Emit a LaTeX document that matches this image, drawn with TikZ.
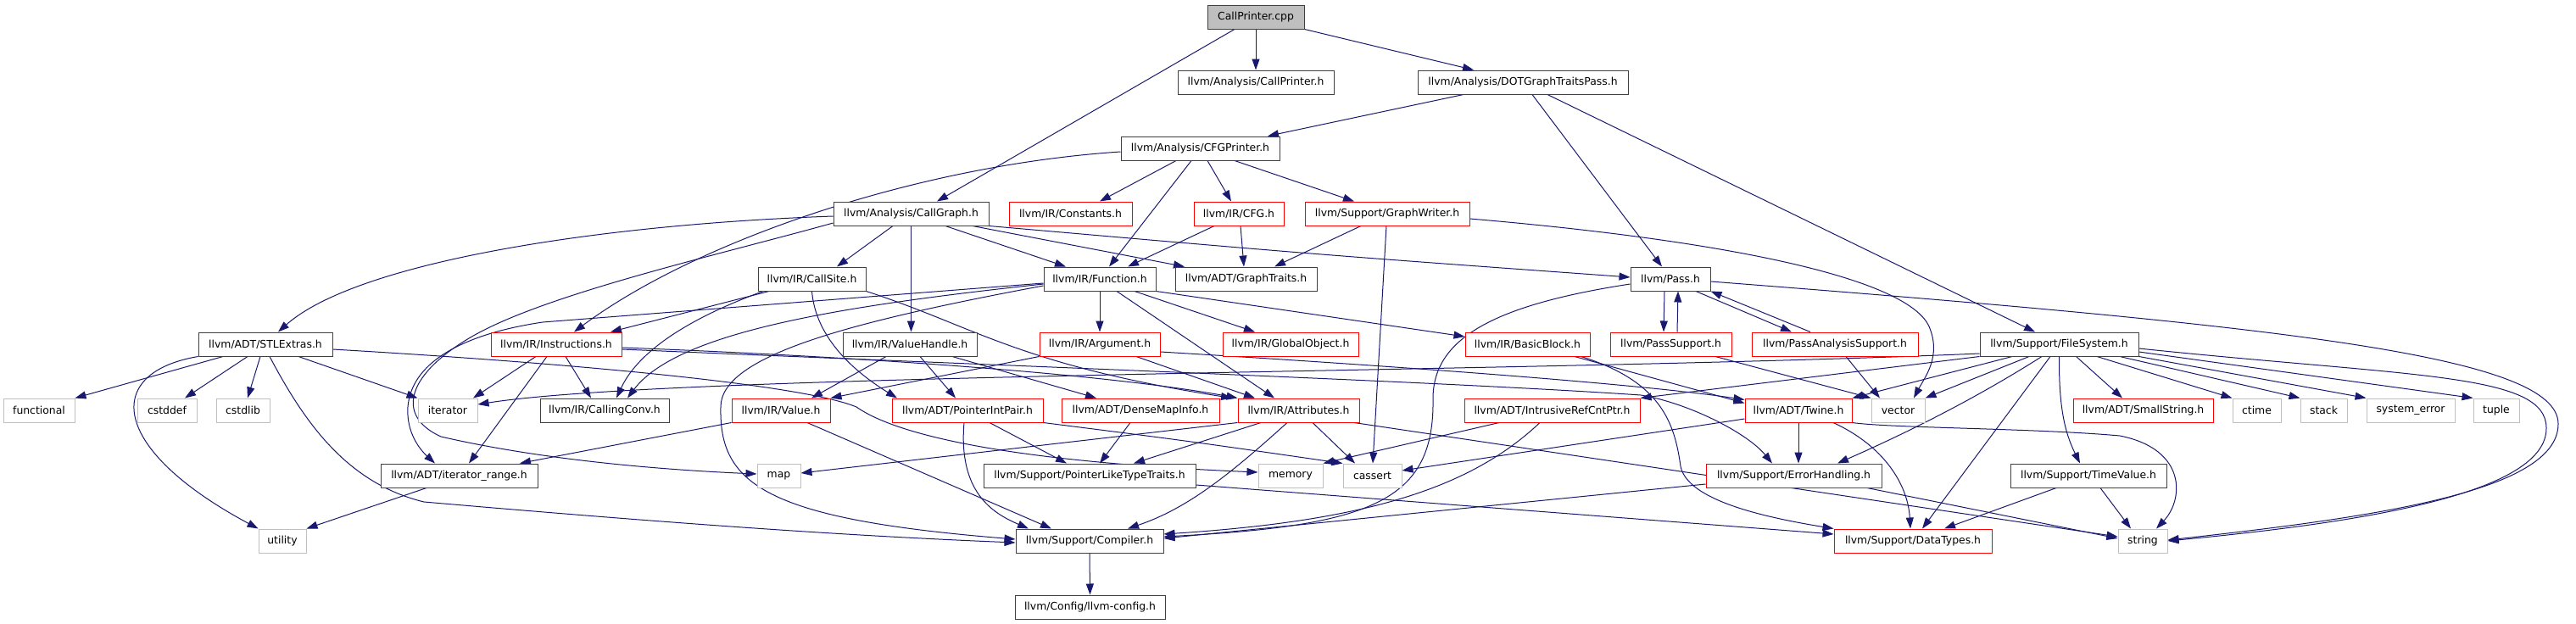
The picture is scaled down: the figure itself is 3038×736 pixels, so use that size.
\documentclass[tikz,border=0pt]{standalone}
\usepackage{fontspec}
\newfontfamily\dejavu{DejaVu Sans}
\usetikzlibrary{arrows.meta}
\definecolor{edgeblue}{HTML}{191970}
\definecolor{sysgray}{HTML}{BFBFBF}
\definecolor{nodeborder}{HTML}{404040}
\pgfdeclarelayer{bgl}
\pgfdeclarelayer{edgel}
\pgfsetlayers{bgl,edgel,main}
\begin{document}
\begin{tikzpicture}[x=1pt,y=-1pt,
  box/.style={draw=nodeborder, line width=1pt, fill=white, inner sep=0pt, minimum height=28pt,
    font={\dejavu\fontsize{12.4}{14}\selectfont}, text=black},
  hdr/.style={box},
  trunc/.style={box, draw=red},
  sys/.style={box, draw=sysgray},
  rootbox/.style={box, fill=sysgray},
  e/.style={draw=edgeblue, line width=1pt, -{Triangle[length=13pt,width=9pt]}}]
\begin{pgfonlayer}{bgl}
\fill[white] (0,0) rectangle (3038,736);
\end{pgfonlayer}
\useasboundingbox (0,0) rectangle (3038,736);
% row 1-3
\node[rootbox, minimum width=114pt] (root) at (1481,20) {CallPrinter.cpp};
\node[hdr, minimum width=184pt] (cph) at (1481,97) {llvm/Analysis/CallPrinter.h};
\node[hdr, minimum width=248pt] (dot) at (1796,97) {llvm/Analysis/DOTGraphTraitsPass.h};
\node[hdr, minimum width=187pt] (cfgp) at (1415.5,175) {llvm/Analysis/CFGPrinter.h};
% row 4
\node[hdr, minimum width=183pt] (cg) at (1074.5,252) {llvm/Analysis/CallGraph.h};
\node[trunc, minimum width=145pt] (const) at (1262.5,252) {llvm/IR/Constants.h};
\node[trunc, minimum width=106pt] (cfg) at (1461,252) {llvm/IR/CFG.h};
\node[trunc, minimum width=194pt] (gw) at (1636,252) {llvm/Support/GraphWriter.h};
% row 5
\node[hdr, minimum width=127pt] (cs) at (957.5,329) {llvm/IR/CallSite.h};
\node[hdr, minimum width=132pt] (fn) at (1297,329) {llvm/IR/Function.h};
\node[hdr, minimum width=167pt] (gt) at (1469.5,329) {llvm/ADT/GraphTraits.h};
\node[hdr, minimum width=94pt] (pass) at (1970,329) {llvm/Pass.h};
% row 6
\node[hdr, minimum width=158pt] (stl) at (313,406) {llvm/ADT/STLExtras.h};
\node[trunc, minimum width=154pt] (instr) at (656,406) {llvm/IR/Instructions.h};
\node[hdr, minimum width=158pt] (vh) at (1073,406) {llvm/IR/ValueHandle.h};
\node[trunc, minimum width=142pt] (arg) at (1297,406) {llvm/IR/Argument.h};
\node[trunc, minimum width=160pt] (go) at (1522,406) {llvm/IR/GlobalObject.h};
\node[trunc, minimum width=147pt] (bb) at (1801.5,406) {llvm/IR/BasicBlock.h};
\node[trunc, minimum width=143pt] (ps) at (1970.5,406) {llvm/PassSupport.h};
\node[trunc, minimum width=196pt] (pas) at (2164,406) {llvm/PassAnalysisSupport.h};
\node[hdr, minimum width=187pt] (fs) at (2428.5,406) {llvm/Support/FileSystem.h};
% row 7
\node[sys, minimum width=84pt] (functional) at (46,484) {functional};
\node[sys, minimum width=70pt] (cstddef) at (197,484) {cstddef};
\node[sys, minimum width=63pt] (cstdlib) at (286.5,484) {cstdlib};
\node[sys, minimum width=70pt] (iterator) at (528,484) {iterator};
\node[hdr, minimum width=152pt] (cc) at (713,484) {llvm/IR/CallingConv.h};
\node[trunc, minimum width=116pt] (val) at (921,484) {llvm/IR/Value.h};
\node[trunc, minimum width=178pt] (pip) at (1141,484) {llvm/ADT/PointerIntPair.h};
\node[trunc, minimum width=186pt] (dmi) at (1345,484) {llvm/ADT/DenseMapInfo.h};
\node[trunc, minimum width=143pt] (attr) at (1531.5,484) {llvm/IR/Attributes.h};
\node[trunc, minimum width=207pt] (irc) at (1830.5,484) {llvm/ADT/IntrusiveRefCntPtr.h};
\node[trunc, minimum width=126pt] (twine) at (2121,484) {llvm/ADT/Twine.h};
\node[sys, minimum width=63pt] (vector) at (2238.5,484) {vector};
\node[trunc, minimum width=165pt] (ss) at (2527.5,484) {llvm/ADT/SmallString.h};
\node[sys, minimum width=57pt] (ctime) at (2661.5,484) {ctime};
\node[sys, minimum width=55pt] (stack) at (2740.5,484) {stack};
\node[sys, minimum width=104pt] (syserr) at (2843,484) {system\_error};
\node[sys, minimum width=54pt] (tuple) at (2944,484) {tuple};
% row 8
\node[hdr, minimum width=185pt] (ir) at (541.5,561) {llvm/ADT/iterator\_range.h};
\node[sys, minimum width=51pt] (map) at (918.5,561) {map};
\node[hdr, minimum width=250pt] (pltt) at (1285,561) {llvm/Support/PointerLikeTypeTraits.h};
\node[sys, minimum width=76pt] (memory) at (1522,561) {memory};
\node[sys, minimum width=69pt] (cassert) at (1618.5,561) {cassert};
\node[trunc, minimum width=207pt] (eh) at (2115.5,561) {llvm/Support/ErrorHandling.h};
\node[hdr, minimum width=184pt] (tv) at (2463,561) {llvm/Support/TimeValue.h};
% row 9-10
\node[sys, minimum width=56pt] (utility) at (333,638) {utility};
\node[hdr, minimum width=174pt] (comp) at (1285,638) {llvm/Support/Compiler.h};
\node[trunc, minimum width=186pt] (dt) at (2256,638) {llvm/Support/DataTypes.h};
\node[sys, minimum width=58pt] (string) at (2527,638) {string};
\node[hdr, minimum width=177pt] (llvmcfg) at (1285.5,716) {llvm/Config/llvm-config.h};

% ---------- edges ----------
\begin{pgfonlayer}{edgel}
\draw[e] (root.south) -- (cph.north);
\draw[e] ([xshift=-25pt]root.south) -- ([xshift=30.5pt]cg.north);
\draw[e] (root.south east) -- ([xshift=-58pt]dot.north);
\draw[e] ([xshift=-70pt]dot.south) -- ([xshift=79.5pt]cfgp.north);
\draw[e] ([xshift=11pt]dot.south) -- ([xshift=-10pt]pass.north);
\draw[e] ([xshift=29pt]dot.south) -- ([xshift=-28.5pt]fs.north);
\draw[e] ([xshift=-28.5pt]cfgp.south) -- ([xshift=34.5pt]const.north);
\draw[e] ([xshift=-10.5pt]cfgp.south) -- ([xshift=11pt]fn.north);
\draw[e] ([xshift=8.5pt]cfgp.south) -- ([xshift=-9pt]cfg.north);
\draw[e] ([xshift=40.5pt]cfgp.south) -- ([xshift=-39pt]gw.north);
\draw[e] ([yshift=-4pt]cfgp.west) .. controls (1080,195) and (820,285) .. ([xshift=21pt]instr.north);
% CallGraph
\draw[e] ([yshift=-3pt]cg.west) .. controls (700,265) and (420,310) .. ([xshift=15pt]stl.north);
\draw[e] ([yshift=-11pt]cg.west) .. controls (850,300) and (650,345) .. (560,395)
   .. controls (480,440) and (465,490) .. (520,515) .. controls (650,545) and (800,555) .. ([yshift=2pt]map.west);
\draw[e] ([xshift=-21.5pt]cg.south) -- ([xshift=29.5pt]cs.north);
\draw[e] (cg.south) -- (cg.south |- vh.north);
\draw[e] ([xshift=40.5pt]cg.south) -- ([xshift=-40pt]fn.north);
\draw[e] ([xshift=72.5pt]cg.south) -- ([xshift=-72.5pt]gt.north);
\draw[e] (cg.south east) .. controls (1550,300) .. ([yshift=2pt]pass.west);
% CFG, GraphWriter
\draw[e] ([xshift=-29pt]cfg.south) -- ([xshift=33pt]fn.north);
\draw[e] ([xshift=2pt]cfg.south) -- ([xshift=-2.5pt]gt.north);
\draw[e] ([xshift=-31pt]gw.south) -- ([xshift=33.5pt]gt.north);
\draw[e] ([xshift=-1pt]gw.south) -- ([xshift=0.5pt]cassert.north);
\draw[e] ([yshift=-6pt]gw.east) .. controls (2050,285) and (2250,330) .. (2275,385)
   .. controls (2290,420) and (2270,445) .. ([xshift=18.5pt]vector.north);
% CallSite
\draw[e] ([xshift=-50.5pt]cs.south) -- ([xshift=64pt]instr.north);
\draw[e] ([xshift=-57.5pt]cs.south) .. controls (800,380) and (750,420) .. ([xshift=14pt]cc.north);
\draw[e] (cs.south) .. controls (962,400) and (1010,440) .. ([xshift=-83pt]pip.north);
\draw[e] (cs.south east) .. controls (1150,385) and (1200,430) .. ([xshift=-78.5pt]attr.north);
% Function
\draw[e] ([yshift=-5pt]fn.west) -- (640,380) .. controls (540,395) and (485,430) .. (481,480)
   .. controls (479,510) and (495,530) .. ([xshift=-28.5pt]ir.north);
\draw[e] ([yshift=-6pt]fn.west) .. controls (1000,360) and (800,390) .. ([xshift=27pt]cc.north);
\draw[e] ([yshift=-8pt]fn.west) .. controls (1000,380) and (850,420) .. (850,480)
   .. controls (848,570) and (900,612) .. ([yshift=2pt]comp.west);
\draw[e] (fn.south) -- (arg.north);
\draw[e] ([xshift=20pt]fn.south) -- ([xshift=-28.5pt]attr.north);
\draw[e] ([xshift=41pt]fn.south) -- ([xshift=-42pt]go.north);
\draw[e] (fn.south east) -- ([yshift=9pt]bb.west);
% Pass
\draw[e] ([yshift=-6pt]pass.west) .. controls (1760,360) and (1690,400) .. (1690,470)
   .. controls (1692,590) and (1620,620) .. ([yshift=5pt]comp.east);
\draw[e] ([yshift=-3pt]pass.east) .. controls (2700,385) and (3017,420) .. (3017,500)
   .. controls (3017,580) and (2800,610) .. ([yshift=1pt]string.east);
\draw[e] ([xshift=-7pt]pass.south) -- ([xshift=-8.5pt]ps.north);
\draw[e] ([xshift=7.5pt]ps.north) -- ([xshift=9pt]pass.south);
\draw[e] ([xshift=30pt]pass.south) -- ([xshift=-51pt]pas.north);
\draw[e] ([xshift=-29pt]pas.north) -- (pass.south east);
% STLExtras
\draw[e] ([xshift=-50pt]stl.south) -- (functional.north east);
\draw[e] ([xshift=-21pt]stl.south) -- ([xshift=21pt]cstddef.north);
\draw[e] ([xshift=-6pt]stl.south) -- ([xshift=5.5pt]cstdlib.north);
\draw[e] ([xshift=39pt]stl.south) -- (iterator.north west);
\draw[e] (stl.south west) .. controls (120,440) and (130,530) .. (utility.north west);
\draw[e] ([xshift=5pt]stl.south) .. controls (360,500) and (410,570) .. (500,592)
   .. controls (800,618) and (1000,632) .. ([yshift=-2pt]comp.west);
\draw[e] ([yshift=-6pt]stl.east) .. controls (700,430) and (950,455) .. (1010,480)
   .. controls (1060,515) and (1200,545) .. ([yshift=4pt]memory.west);
% Instructions
\draw[e] ([xshift=-24pt]instr.south) -- ([xshift=30pt]iterator.north);
\draw[e] ([xshift=11pt]instr.south) -- ([xshift=-16pt]cc.north);
\draw[e] ([xshift=-11pt]instr.south) -- ([xshift=11.5pt]ir.north);
\draw[e] ([yshift=-4pt]instr.east) .. controls (1000,420) and (1300,440) .. (attr.north west);
\draw[e] ([yshift=-6pt]instr.east) .. controls (1200,432) and (1700,450) .. (1935,466)
   .. controls (1990,475) and (2060,510) .. ([xshift=-25.5pt]eh.north);
% ValueHandle, Argument, BasicBlock
\draw[e] ([xshift=12pt]vh.south) -- ([xshift=-14pt]pip.north);
\draw[e] ([xshift=50pt]vh.south) -- ([xshift=-52pt]dmi.north);
\draw[e] ([xshift=-28pt]vh.south) -- ([xshift=36pt]val.north);
\draw[e] (arg.south west) -- (val.north east);
\draw[e] ([xshift=43pt]arg.south) -- ([xshift=-51.5pt]attr.north);
\draw[e] ([yshift=-9pt]arg.east) .. controls (1700,435) and (1950,455) .. ([yshift=-2pt]twine.north west);
\draw[e] ([xshift=55.5pt]bb.south) -- ([yshift=-6pt]twine.north west);
\draw[e] ([xshift=63pt]bb.south) .. controls (1960,450) and (1975,500) .. (1982,550)
   .. controls (1990,590) and (2080,610) .. (dt.north west);
\draw[e] ([xshift=52.5pt]ps.south) -- (vector.north west);
\draw[e] ([xshift=13pt]pas.south) -- ([xshift=-21.5pt]vector.north);
% FileSystem
\draw[e] (fs.south west) -- (irc.north east);
\draw[e] ([yshift=-11pt]fs.west) .. controls (1800,440) and (800,440) .. ([yshift=7pt]iterator.east);
\draw[e] ([xshift=20pt]fs.south) -- ([xshift=-24.5pt]ss.north);
\draw[e] ([xshift=-55.5pt]fs.south) -- (twine.north east);
\draw[e] ([xshift=-10.5pt]fs.south) -- ([xshift=11pt]dt.north);
\draw[e] ([xshift=-20.5pt]fs.south) .. controls (2330,470) and (2250,510) .. ([xshift=51.5pt]eh.north);
\draw[e] (fs.south) .. controls (2428,480) and (2435,510) .. ([xshift=-10pt]tv.north);
\draw[e] ([xshift=-35.5pt]fs.south) -- (vector.north east);
\draw[e] ([xshift=44.5pt]fs.south) -- (ctime.north west);
\draw[e] ([xshift=71.5pt]fs.south) -- (stack.north west);
\draw[e] (fs.south east) -- (syserr.north west);
\draw[e] ([yshift=-9pt]fs.east) -- (tuple.north west);
\draw[e] ([yshift=-5pt]fs.east) .. controls (2850,445) and (3003,440) .. (3003,505)
   .. controls (3003,580) and (2800,615) .. (string.east);
% IntrusiveRefCntPtr, Twine, ErrorHandling, TimeValue
\draw[e] ([xshift=-62.5pt]irc.south) -- (memory.north east);
\draw[e] ([xshift=-14.5pt]irc.south) .. controls (1730,580) and (1600,615) .. ([yshift=8pt]comp.east);
\draw[e] ([yshift=-10pt]twine.west) -- ([yshift=6pt]cassert.east);
\draw[e] (twine.south) -- (twine.south |- eh.north);
\draw[e] ([xshift=41pt]twine.south) .. controls (2220,525) and (2250,570) .. ([xshift=-3pt]dt.north);
\draw[e] (twine.south east) .. controls (2230,505) and (2400,505) .. (2500,514)
   .. controls (2580,530) and (2575,590) .. ([xshift=16pt]string.north);
\draw[e] ([xshift=86.5pt]eh.south) -- ([yshift=3pt]string.west);
\draw[e] ([yshift=-10pt]eh.west) -- ([yshift=3pt]comp.east);
\draw[e] ([xshift=-38pt]tv.south) -- ([xshift=37pt]dt.north);
\draw[e] ([xshift=14pt]tv.south) -- ([xshift=-14pt]string.north);
% PointerIntPair, DenseMapInfo, Attributes, Value
\draw[e] ([xshift=26pt]pip.south) -- ([xshift=-27pt]pltt.north);
\draw[e] ([xshift=-4pt]pip.south) .. controls (1130,580) and (1170,605) .. ([xshift=-72pt]comp.north);
\draw[e] (pip.south east) .. controls (1400,520) .. (cassert.north west);
\draw[e] ([xshift=-12pt]dmi.south) -- ([xshift=12pt]pltt.north);
\draw[e] ([xshift=-44.5pt]attr.south) -- ([xshift=52pt]pltt.north);
\draw[e] ([xshift=-13.5pt]attr.south) .. controls (1450,560) and (1400,600) .. ([xshift=45pt]comp.north);
\draw[e] ([xshift=16.5pt]attr.south) -- ([xshift=-20.5pt]cassert.north);
\draw[e] (attr.south west) -- ([yshift=3pt]map.east);
\draw[e] ([xshift=65.5pt]attr.south) -- ([yshift=5pt]string.west);
\draw[e] (val.south west) -- ([xshift=71.5pt]ir.north);
\draw[e] ([xshift=31pt]val.south) -- ([xshift=-45pt]comp.north);
\draw[e] ([yshift=-11pt]pltt.east) -- ([yshift=8pt]dt.west);
\draw[e] ([xshift=-38.5pt]ir.south) -- (utility.north east);
\draw[e] (comp.south) -- (llvmcfg.north);
\end{pgfonlayer}
\end{tikzpicture}
\end{document}
